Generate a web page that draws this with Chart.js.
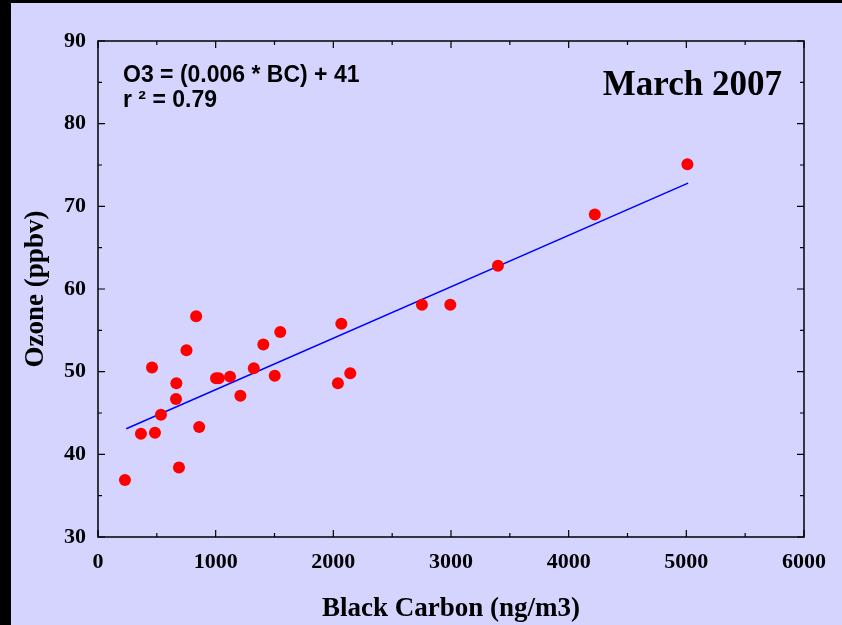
<!DOCTYPE html>
<html>
<head>
<meta charset="utf-8">
<script src="https://cdn.jsdelivr.net/npm/chart.js@4.4.0/dist/chart.umd.min.js"></script>
<style>
  html, body { margin: 0; padding: 0; background: #000; width: 842px; height: 625px; overflow: hidden; }
  #wrap { position: absolute; left: 11px; top: 3px; width: 831px; height: 622px; background: #d4d4fe; }
  canvas { display: block; }
</style>
</head>
<body>
<div id="wrap"><canvas id="c" width="831" height="622"></canvas></div>
<script>
// ---- data ----
const bcValues = [229, 365, 484, 459, 535, 663, 666, 688, 752, 834, 860, 1003, 1026, 1122, 1210, 1324, 1405, 1502, 1549, 2039, 2068, 2144, 2753, 2994, 3399, 4222, 5009];
const o3Values = [36.9, 42.5, 42.6, 50.5, 44.8, 46.7, 48.6, 38.4, 52.6, 56.7, 43.3, 49.2, 49.2, 49.4, 47.1, 50.4, 53.3, 49.5, 54.8, 48.6, 55.8, 49.8, 58.1, 58.1, 62.8, 69.0, 75.1];
const fitX = [240, 5015];
const fitY = [43.1, 72.8];
const xTickValues = [0, 1000, 2000, 3000, 4000, 5000, 6000];
const yTickValues = [30, 40, 50, 60, 70, 80, 90];
const xMinorStep = 500;
const yMinorStep = 5;
const titleText = "March 2007";
const eqLine1 = "O3 = (0.006 * BC) + 41";
const eqLine2 = "r \u00B2 = 0.79";
const xTitle = "Black Carbon (ng/m3)";
const yTitle = "Ozone (ppbv)";

const points = bcValues.map((x, i) => ({ x: x, y: o3Values[i] }));
const fitLine = fitX.map((x, i) => ({ x: x, y: fitY[i] }));

const frameAndText = {
  id: 'frameAndText',
  afterDatasetsDraw(chart) {
    const ctx = chart.ctx;
    const a = chart.chartArea;
    const xs = chart.scales.x, ys = chart.scales.y;
    ctx.save();
    ctx.strokeStyle = '#000';
    ctx.lineWidth = 1.5;
    ctx.strokeRect(a.left, a.top, a.right - a.left, a.bottom - a.top);
    ctx.lineWidth = 1.2;
    ctx.beginPath();
    for (let v = xs.min; v <= xs.max; v += xMinorStep) {
      const px = xs.getPixelForValue(v);
      const len = xTickValues.includes(v) ? 7 : 4;
      ctx.moveTo(px, a.bottom); ctx.lineTo(px, a.bottom - len);
      ctx.moveTo(px, a.top); ctx.lineTo(px, a.top + len);
    }
    for (let v = ys.min; v <= ys.max; v += yMinorStep) {
      const py = ys.getPixelForValue(v);
      const len = yTickValues.includes(v) ? 7 : 4;
      ctx.moveTo(a.left, py); ctx.lineTo(a.left + len, py);
      ctx.moveTo(a.right, py); ctx.lineTo(a.right - len, py);
    }
    ctx.stroke();
    ctx.fillStyle = '#000';
    ctx.textBaseline = 'alphabetic';
    ctx.textAlign = 'left';
    ctx.font = 'bold 23px "Liberation Sans", Arial, sans-serif';
    ctx.fillText(eqLine1, a.left + 25, a.top + 41);
    ctx.fillText(eqLine2, a.left + 25, a.top + 66);
    ctx.textAlign = 'right';
    ctx.font = 'bold 35px "Liberation Serif", "Times New Roman", serif';
    ctx.fillText(titleText, a.right - 22, a.top + 54);
    ctx.restore();
  }
};

const tickFont = { family: '"Liberation Serif", "Times New Roman", serif', size: 22, weight: 'bold' };
const titleFont = { family: '"Liberation Serif", "Times New Roman", serif', size: 27, weight: 'bold' };

new Chart(document.getElementById('c'), {
  type: 'scatter',
  data: {
    datasets: [
      { data: points, backgroundColor: '#ff0000', borderColor: '#ff0000', pointRadius: 6, pointHoverRadius: 6, borderWidth: 0 },
      { data: fitLine, showLine: true, borderColor: '#0000ff', borderWidth: 1.5, pointRadius: 0, fill: false }
    ]
  },
  options: {
    responsive: false,
    animation: false,
    events: [],
    layout: { padding: { left: 0, top: 38, right: 38, bottom: 0 } },
    plugins: { legend: { display: false }, tooltip: { enabled: false } },
    scales: {
      x: {
        type: 'linear', position: 'bottom', min: 0, max: 6000,
        afterBuildTicks(s) { s.ticks = xTickValues.map(v => ({ value: v })); },
        ticks: { font: tickFont, color: '#000', padding: 12, maxRotation: 0, callback: v => String(v) },
        grid: { display: false, drawTicks: false },
        border: { display: false },
        title: { display: true, text: xTitle, font: titleFont, color: '#000', padding: { top: 0, bottom: 0 } },
        afterFit(s) { s.height = 88; }
      },
      y: {
        type: 'linear', position: 'left', min: 30, max: 90,
        afterBuildTicks(s) { s.ticks = yTickValues.map(v => ({ value: v })); },
        ticks: { font: tickFont, color: '#000', padding: 12, callback: v => String(v) },
        grid: { display: false, drawTicks: false },
        border: { display: false },
        title: { display: true, text: yTitle, font: titleFont, color: '#000', padding: { top: 9, bottom: 0 } },
        afterFit(s) { s.width = 87; }
      }
    }
  },
  plugins: [frameAndText]
});
</script>
</body>
</html>
